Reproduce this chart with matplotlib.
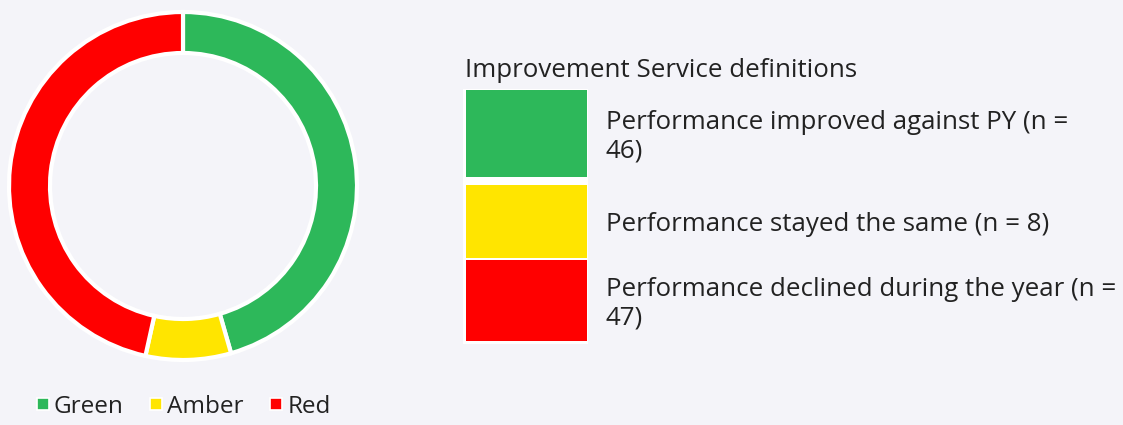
import matplotlib
matplotlib.use("Agg")
import matplotlib.pyplot as plt
from matplotlib.patches import Rectangle
from matplotlib.lines import Line2D

categories = ["Green", "Amber", "Red"]
values = [46, 8, 47]
colors = ["#2db85a", "#ffe500", "#ff0000"]
legend_title = "Improvement Service definitions"
definitions = [
    "Performance improved against PY (n =\n46)",
    "Performance stayed the same (n = 8)",
    "Performance declined during the year (n =\n47)",
]

BG = "#f4f4f9"
W, H = 1123, 425
fig = plt.figure(figsize=(W / 100, H / 100), dpi=100, facecolor=BG)
plt.rcParams["font.family"] = ["Open Sans", "DejaVu Sans"]

# donut
cx, cy, r = 183, 186, 174
ax = fig.add_axes([(cx - r) / W, (H - cy - r) / H, 2 * r / W, 2 * r / H])
ax.set_facecolor(BG)
ax.pie(values, colors=colors, startangle=90, counterclock=False, radius=1,
       wedgeprops=dict(width=41 / r, edgecolor="white", linewidth=3))
ax.set_xlim(-1, 1)
ax.set_ylim(-1, 1)
ax.set_aspect("equal")
ax.axis("off")

# overlay axes in pixel coords
ov = fig.add_axes([0, 0, 1, 1], facecolor="none")
ov.set_xlim(0, W)
ov.set_ylim(H, 0)
ov.axis("off")

FS = 18.6
ov.text(465, 70, legend_title, fontsize=FS, va="center", ha="left", color="#222222")
ov.add_patch(Rectangle((463, 89), 125, 255, facecolor="white", edgecolor="none"))
rows = [(90, 177), (185, 258), (260, 341)]
for (y0, y1), c, d in zip(rows, colors, definitions):
    ov.add_patch(Rectangle((466, y0), 121, y1 - y0, facecolor=c, edgecolor="none"))
    ov.text(606, (y0 + y1) / 2 + 3, d, fontsize=FS, va="center", ha="left",
            color="#222222", linespacing=1.2)

# bottom legend
handles = [Line2D([], [], marker="s", linestyle="none", markersize=9,
                  markerfacecolor=c, markeredgecolor="white", markeredgewidth=1.2)
           for c in colors]
leg = fig.legend(handles, categories, loc="center left", bbox_to_anchor=(11 / W, 1 - 407 / H),
                 ncol=3, frameon=False, fontsize=17.5, handletextpad=0.05,
                 columnspacing=0.95, handlelength=0.8)
for t in leg.get_texts():
    t.set_color("#222222")

fig.savefig("out.png", dpi=100, facecolor=BG)
